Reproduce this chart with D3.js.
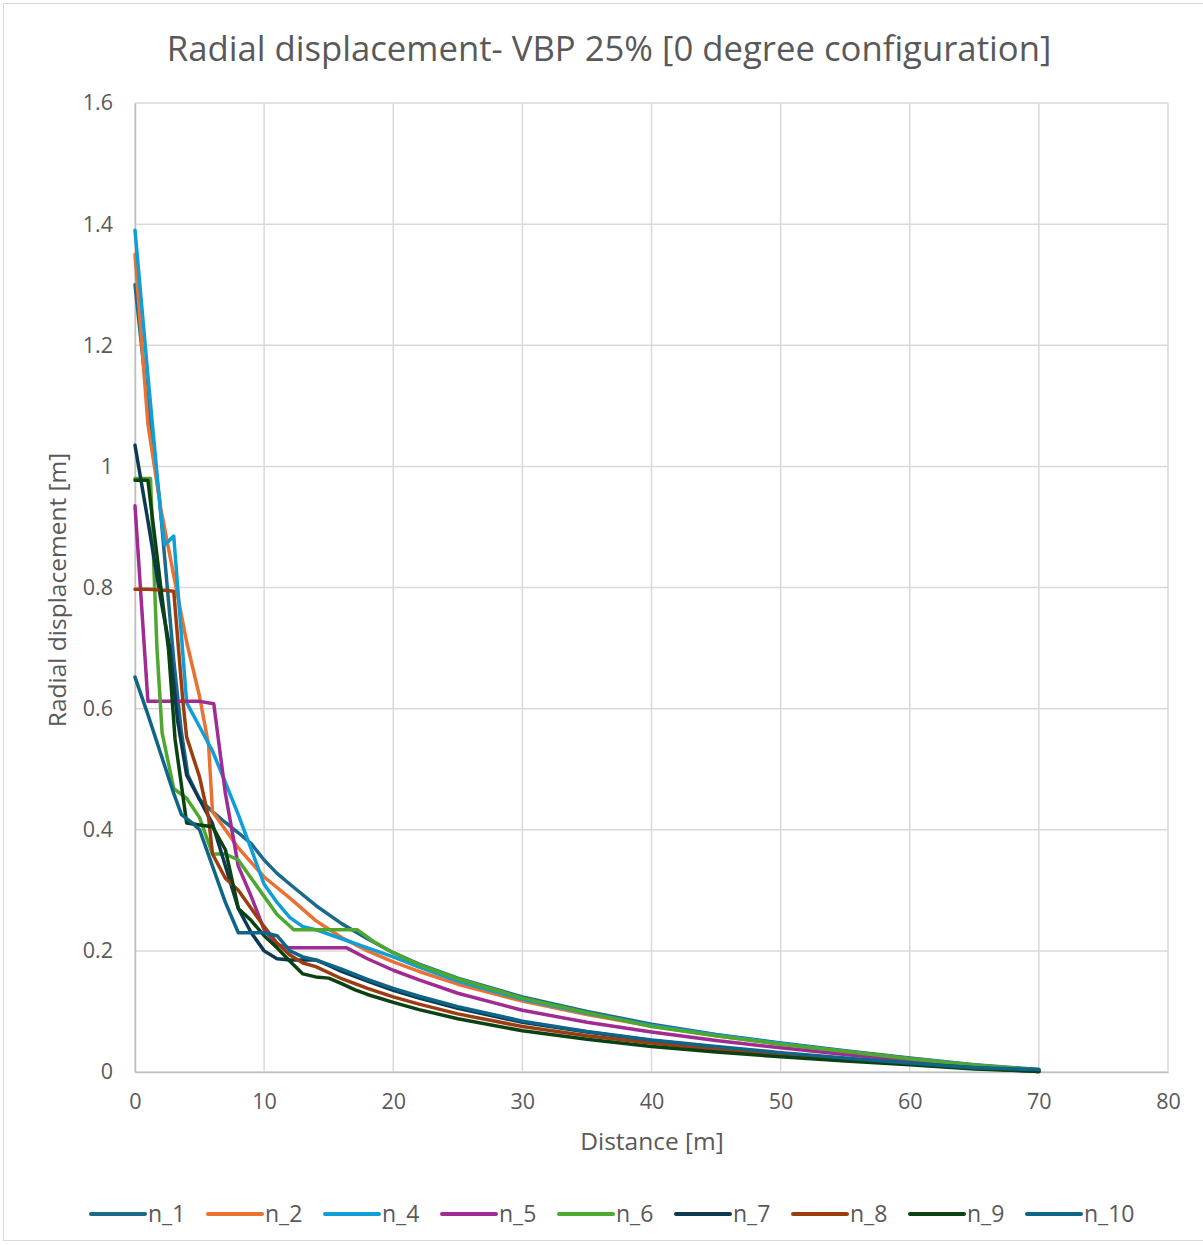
<!DOCTYPE html>
<html>
<head>
<meta charset="utf-8">
<script src="https://cdn.jsdelivr.net/npm/d3@7"></script>
<style>
  html, body { margin: 0; padding: 0; background: #fff; }
  svg { display: block; }
  text { font-family: "Open Sans", "Liberation Sans", sans-serif; fill: #595959; }
</style>
</head>
<body>
<svg id="chart" width="1203" height="1245"></svg>
<script>
const titleText = "Radial displacement- VBP 25% [0 degree configuration]";
const xTitle = "Distance [m]";
const yTitle = "Radial displacement [m]";
const xTicks = [0, 10, 20, 30, 40, 50, 60, 70, 80];
const yTicks = [0, 0.2, 0.4, 0.6, 0.8, 1, 1.2, 1.4, 1.6];
const seriesNames = ["n_1", "n_2", "n_4", "n_5", "n_6", "n_7", "n_8", "n_9", "n_10"];
const seriesColors = ["#1b6a8c", "#e97132", "#0f9ed5", "#a02b93", "#4ea72e", "#0d3a52", "#9c3d10", "#0b4213", "#0e6587"];

const n_1 = [[0,1.30],[1,1.1],[1.9,0.945],[3,0.68],[3.6,0.56],[4.1,0.49],[5,0.45],[6,0.43],[7,0.412],[8,0.395],[9,0.377],[10,0.35],[11,0.328],[12,0.31],[14,0.275],[16,0.245],[18,0.22],[20,0.197],[22,0.178],[25,0.155],[30,0.124],[35,0.1],[40,0.079],[45,0.062],[50,0.048],[55,0.035],[60,0.023],[65,0.012],[70,0.004]];
const n_2 = [[0,1.35],[1,1.07],[2,0.93],[3,0.82],[4,0.71],[5,0.62],[5.7,0.54],[6,0.43],[7,0.40],[8,0.37],[10,0.322],[12,0.287],[14,0.25],[16,0.222],[18,0.2],[20,0.182],[22,0.166],[25,0.145],[30,0.117],[35,0.095],[40,0.076],[45,0.06],[50,0.046],[55,0.034],[60,0.022],[65,0.011],[70,0.003]];
const n_4 = [[0,1.39],[1,1.15],[2,0.92],[2.3,0.87],[3,0.885],[4,0.61],[5,0.57],[6,0.53],[7,0.478],[8,0.425],[9,0.368],[10,0.31],[11,0.28],[12,0.255],[13,0.24],[14,0.235],[16,0.22],[18,0.205],[20,0.19],[22,0.173],[25,0.15],[30,0.12],[35,0.097],[40,0.077],[45,0.061],[50,0.047],[55,0.034],[60,0.022],[65,0.011],[70,0.003]];
const n_5 = [[0,0.935],[1,0.612],[2,0.612],[3,0.612],[4,0.612],[5,0.612],[6.1,0.608],[7,0.46],[8,0.34],[9,0.29],[10,0.235],[11,0.21],[12,0.205],[14,0.205],[16.4,0.205],[18,0.187],[20,0.168],[22,0.152],[25,0.13],[30,0.102],[35,0.082],[40,0.066],[45,0.052],[50,0.04],[55,0.029],[60,0.019],[65,0.009],[70,0.002]];
const n_6 = [[0,0.98],[1.2,0.98],[1.7,0.70],[2.1,0.56],[3,0.468],[4,0.452],[5,0.42],[6,0.36],[7,0.36],[8,0.35],[9,0.32],[10,0.29],[11,0.26],[12.3,0.235],[14,0.235],[16,0.235],[17.2,0.235],[18.5,0.215],[20,0.197],[22,0.177],[25,0.154],[30,0.122],[35,0.098],[40,0.075],[45,0.06],[50,0.046],[55,0.034],[60,0.022],[65,0.011],[70,0.003]];
const n_7 = [[0,1.035],[1,0.91],[2,0.78],[2.7,0.70],[3.3,0.58],[4,0.49],[5,0.45],[6,0.41],[7,0.34],[8,0.27],[9,0.23],[10,0.2],[11,0.187],[12,0.185],[14,0.185],[15,0.176],[16,0.166],[18,0.15],[20,0.135],[22,0.122],[25,0.105],[30,0.082],[35,0.066],[40,0.052],[45,0.041],[50,0.031],[55,0.022],[60,0.014],[65,0.007],[70,0.001]];
const n_8 = [[0,0.797],[1,0.797],[2,0.796],[3,0.794],[3.7,0.614],[4,0.553],[5,0.487],[5.7,0.42],[6,0.36],[7,0.32],[8,0.3],[9,0.27],[10,0.24],[11,0.213],[12,0.193],[13,0.18],[14,0.174],[16,0.154],[18,0.138],[20,0.124],[22,0.112],[25,0.096],[30,0.075],[35,0.06],[40,0.048],[45,0.037],[50,0.028],[55,0.02],[60,0.013],[65,0.006],[70,0.001]];
const n_9 = [[0,0.977],[1,0.977],[2,0.8],[2.6,0.697],[3.1,0.55],[4,0.411],[5,0.408],[6,0.405],[7,0.367],[8,0.27],[9,0.25],[10,0.225],[11,0.205],[12,0.183],[13,0.162],[14,0.157],[15,0.155],[16,0.146],[17,0.136],[18,0.128],[20,0.115],[22,0.103],[25,0.088],[30,0.068],[35,0.054],[40,0.042],[45,0.033],[50,0.025],[55,0.018],[60,0.012],[65,0.005],[70,0.001]];
const n_10 = [[0,0.652],[1,0.59],[2,0.525],[3,0.46],[3.6,0.425],[4.5,0.41],[5,0.40],[6,0.34],[7,0.28],[8,0.23],[9,0.23],[10,0.23],[11,0.225],[12,0.2],[13,0.19],[14,0.185],[16,0.17],[18,0.153],[20,0.138],[22,0.125],[25,0.108],[30,0.084],[35,0.067],[40,0.053],[45,0.042],[50,0.032],[55,0.023],[60,0.015],[65,0.007],[70,0.004]];

const seriesData = [n_1, n_2, n_4, n_5, n_6, n_7, n_8, n_9, n_10];

const svg = d3.select("#chart");
// outer border
svg.append("rect").attr("x", 3.5).attr("y", 3.5).attr("width", 1205).attr("height", 1237)
  .attr("fill", "none").attr("stroke", "#d9d9d9").attr("stroke-width", 1);

const margin = { left: 135, right: 1168, top: 103, bottom: 1072 };
const x = d3.scaleLinear().domain([0, 80]).range([margin.left, margin.right]);
const y = d3.scaleLinear().domain([0, 1.6]).range([margin.bottom, margin.top]);

// gridlines
const grid = svg.append("g");
grid.selectAll("line.h").data(yTicks).join("line")
  .attr("x1", margin.left).attr("x2", margin.right)
  .attr("y1", d => y(d)).attr("y2", d => y(d))
  .attr("stroke", "#d9d9d9").attr("stroke-width", 1.5);
grid.selectAll("line.v").data(xTicks).join("line")
  .attr("x1", d => x(d)).attr("x2", d => x(d))
  .attr("y1", margin.top).attr("y2", margin.bottom)
  .attr("stroke", "#d9d9d9").attr("stroke-width", 1.5);

// axes
const xAxis = d3.axisBottom(x).tickValues(xTicks).tickSize(0).tickPadding(22).tickFormat(d3.format("d"));
const gx = svg.append("g").attr("transform", `translate(0,${margin.bottom})`).call(xAxis);
gx.select(".domain").attr("stroke", "#bfbfbf").attr("stroke-width", 1.5);
gx.selectAll("text").attr("font-size", 21.5).attr("fill", "#595959").style("font-family", "Open Sans, sans-serif");

const yAxis = d3.axisLeft(y).tickValues(yTicks).tickSize(0).tickPadding(22).tickFormat(d => d === 0 ? "0" : (d === 1 ? "1" : d3.format(".1f")(d)));
const gy = svg.append("g").attr("transform", `translate(${margin.left},0)`).call(yAxis);
gy.select(".domain").attr("stroke", "#bfbfbf").attr("stroke-width", 1.5);
gy.selectAll("text").attr("font-size", 21.5).attr("fill", "#595959").style("font-family", "Open Sans, sans-serif");

// lines
const line = d3.line().x(d => x(d[0])).y(d => y(d[1]));
svg.append("g").selectAll("path").data(seriesData).join("path")
  .attr("d", line)
  .attr("fill", "none")
  .attr("stroke", (d, i) => seriesColors[i])
  .attr("stroke-width", 3.5)
  .attr("stroke-linejoin", "round")
  .attr("stroke-linecap", "round");

// title
svg.append("text").attr("x", 609).attr("y", 61).attr("text-anchor", "middle")
  .attr("font-size", 34.7).text(titleText);
// axis titles
svg.append("text").attr("x", 652).attr("y", 1150).attr("text-anchor", "middle")
  .attr("font-size", 24.5).text(xTitle);
svg.append("text").attr("transform", "translate(66,590) rotate(-90)").attr("text-anchor", "middle")
  .attr("font-size", 24.5).text(yTitle);

// legend
const legend = svg.append("g");
const legItems = legend.selectAll("g").data(seriesNames).join("g")
  .attr("transform", (d, i) => `translate(${91 + i * 117},1214)`);
legItems.append("line").attr("x1", 0).attr("x2", 54).attr("y1", 0).attr("y2", 0)
  .attr("stroke", (d, i) => seriesColors[i]).attr("stroke-width", 4).attr("stroke-linecap", "round");
legItems.append("text").attr("x", 57).attr("y", 8).attr("font-size", 23).text(d => d);
</script>
</body>
</html>
